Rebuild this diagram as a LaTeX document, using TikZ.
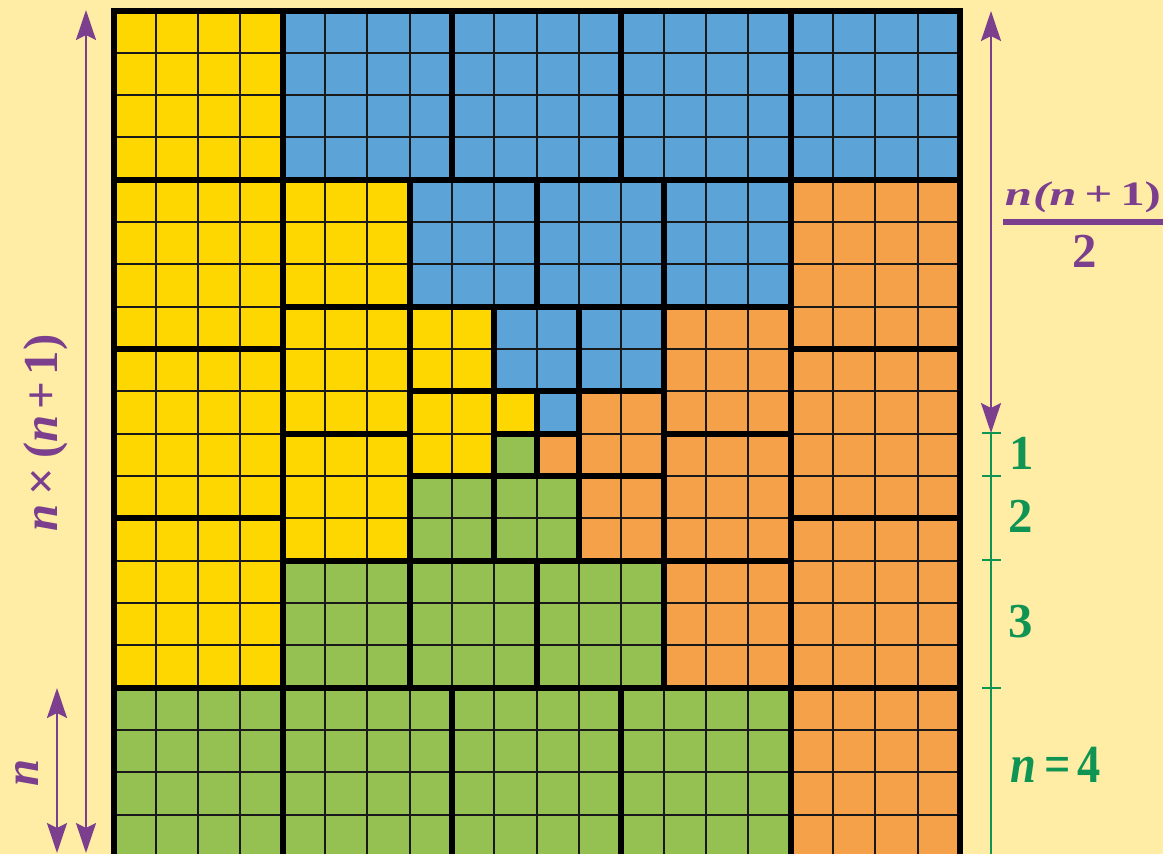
\documentclass[tikz,border=0pt]{standalone}
\usepackage{graphicx}
\usepackage{fontspec}
\setmainfont{Liberation Serif}
\usetikzlibrary{arrows.meta}
\definecolor{bg}{HTML}{FFEDA6}
\definecolor{yel}{HTML}{FFD700}
\definecolor{blu}{HTML}{5CA3D7}
\definecolor{ora}{HTML}{F4A14A}
\definecolor{gre}{HTML}{95C153}
\definecolor{purp}{HTML}{7B3F8E}
\definecolor{gtext}{HTML}{0F9453}
\tikzset{
  cell/.style={line width=2bp, draw=black!90},
  blockline/.style={line width=6bp, draw=black, line join=miter},
  measure/.style={line width=2.5bp, draw=purp,
    {Stealth[length=30bp,width=20bp,inset=5bp]}-{Stealth[length=30bp,width=20bp,inset=5bp]}},
  scale line/.style={line width=2.5bp, draw=gtext},
  bigfont/.style={font=\fontsize{49}{58}\selectfont\bfseries},
  purlabel/.style={bigfont, text=purp, inner sep=0pt},
  grelabel/.style={bigfont, text=gtext, inner sep=0pt},
}
\begin{document}
\begin{tikzpicture}[x=1bp,y=-1bp]
\useasboundingbox (0,0) rectangle (1163,854);
\fill[bg] (0,0) rectangle (1163,854);
\clip (0,0) rectangle (1163,854);

\begin{scope}[shift={(113.5,10.5)},x=42.33bp,y=-42.33bp]
  % fills
  \foreach \a/\b/\s in {0/0/4,0/4/4,0/8/4,0/12/4,4/4/3,4/7/3,4/10/3,7/7/2,7/9/2,9/9/1}
    \fill[yel] (\a,\b) rectangle ++(\s,\s);
  \foreach \a/\b/\s in {4/0/4,8/0/4,12/0/4,16/0/4,7/4/3,10/4/3,13/4/3,9/7/2,11/7/2,10/9/1}
    \fill[blu] (\a,\b) rectangle ++(\s,\s);
  \foreach \a/\b/\s in {16/4/4,16/8/4,16/12/4,16/16/4,13/7/3,13/10/3,13/13/3,11/9/2,11/11/2,10/10/1}
    \fill[ora] (\a,\b) rectangle ++(\s,\s);
  \foreach \a/\b/\s in {0/16/4,4/16/4,8/16/4,12/16/4,4/13/3,7/13/3,10/13/3,7/11/2,9/11/2,9/10/1}
    \fill[gre] (\a,\b) rectangle ++(\s,\s);
  % unit grid
  \foreach \i in {1,...,19} {
    \draw[cell] (\i,0) -- (\i,20);
    \draw[cell] (0,\i) -- (20,\i);
  }
  % block outlines
  \foreach \a/\b/\s in {0/0/4,0/4/4,0/8/4,0/12/4,4/4/3,4/7/3,4/10/3,7/7/2,7/9/2,9/9/1,
                        4/0/4,8/0/4,12/0/4,16/0/4,7/4/3,10/4/3,13/4/3,9/7/2,11/7/2,10/9/1,
                        16/4/4,16/8/4,16/12/4,16/16/4,13/7/3,13/10/3,13/13/3,11/9/2,11/11/2,10/10/1,
                        0/16/4,4/16/4,8/16/4,12/16/4,4/13/3,7/13/3,10/13/3,7/11/2,9/11/2,9/10/1}
    \draw[blockline] (\a,\b) rectangle ++(\s,\s);
\end{scope}

% right side: n(n+1)/2 measure
\coordinate (rtop) at (991,11);
\coordinate (rbot) at (991,433);
\draw[measure] (rbot) -- (rtop);
\node[purlabel, anchor=base] (num) at (1083,205)
  {\scalebox{1}[0.7]{\itshape n\/\kern1bp(n\kern8bp\upshape+\kern8bp1)}};
\coordinate (barl) at (1003,222);
\coordinate (barr) at (1170,222);
\draw[purp, line width=5.5bp] (barl) -- (barr);
\node[purlabel, anchor=base] (den) at (1085,267) {2};

% green scale
\coordinate (g0) at (991,433);
\coordinate (g1) at (991,476);
\coordinate (g2) at (991,560);
\coordinate (g3) at (991,688);
\coordinate (g4) at (991,860);
\draw[scale line] (g0) -- (g4);
\foreach \c in {g0,g1,g2,g3}
  \draw[scale line] ([xshift=-9bp]\c) -- ([xshift=10bp]\c);
\node[grelabel, anchor=base] (l1) at (1022,469) {1};
\node[grelabel, anchor=base] (l2) at (1021,532) {2};
\node[grelabel, anchor=base] (l3) at (1021,637) {3};
\node[grelabel, anchor=base west] (l4) at (1010,782)
  {\scalebox{0.95}[1.1]{\itshape n\/\kern9bp\upshape=\kern7bp4}};

% left side measures
\coordinate (ltop) at (86,10);
\coordinate (lbot) at (86,853);
\draw[measure] (lbot) -- (ltop);
\coordinate (stop) at (57,688);
\coordinate (sbot) at (57,853);
\draw[measure] (sbot) -- (stop);
\node[purlabel, rotate=90] (nn1) at (46,433)
  {\itshape n\/\kern9bp\upshape×\kern9bp(\itshape n\/\kern6bp\upshape+\kern6bp1)};
\node[purlabel, rotate=90] (nlab) at (27,773) {\itshape n};
\end{tikzpicture}
\end{document}
